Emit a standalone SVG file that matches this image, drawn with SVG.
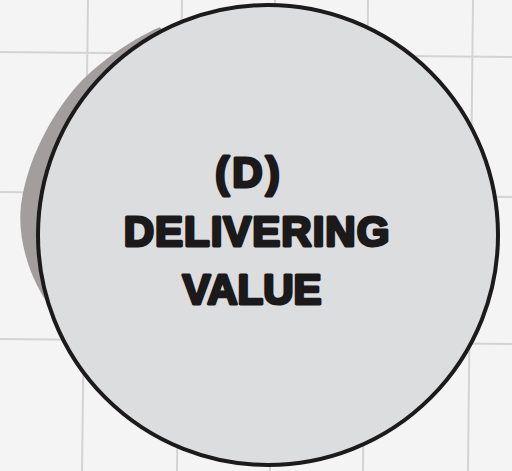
<svg xmlns="http://www.w3.org/2000/svg" width="512" height="471" viewBox="0 0 512 471">
<style>
.grid{stroke:#d3d3d3;stroke-width:2;fill:none}
.lbl{font-family:"Liberation Sans",Arial,sans-serif;font-weight:bold;font-size:42px;fill:#1b1919;stroke:#1b1919;stroke-width:3;stroke-linejoin:round;text-anchor:middle}
</style>
<rect x="0" y="0" width="512" height="471" fill="#f4f4f4"/>
<g id="grid">
<line class="grid" x1="88" y1="0" x2="82" y2="471"/>
<line class="grid" x1="182" y1="0" x2="177" y2="471"/>
<line class="grid" x1="275" y1="0" x2="270" y2="471"/>
<line class="grid" x1="368" y1="0" x2="363" y2="471"/>
<line class="grid" x1="473" y1="0" x2="468" y2="471"/>
<line class="grid" x1="0" y1="52" x2="512" y2="57"/>
<line class="grid" x1="0" y1="192" x2="512" y2="197"/>
<line class="grid" x1="0" y1="339" x2="512" y2="344"/>
</g>
<g id="connectors"/>
<g id="node-d">
<path d="M160,27 C130,40 95,65 75,88 C50,118 27,160 21,205 C17,240 30,280 52,310 L268,235 Z" fill="#a39e9e"/>
<circle cx="268" cy="235" r="230" fill="#dcdddf" stroke="#1c1a1b" stroke-width="4"/>
<text class="lbl" x="249" y="187" letter-spacing="3">(D)</text>
<text class="lbl" x="257" y="246" letter-spacing="1">DELIVERING</text>
<text class="lbl" x="252" y="304">VALUE</text>
</g>
</svg>
